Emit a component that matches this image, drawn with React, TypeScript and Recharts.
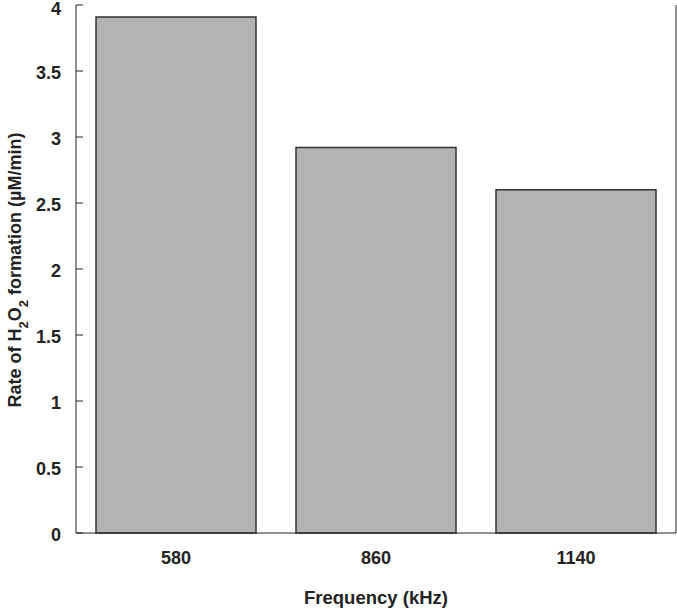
import { BarChart, Bar, XAxis, YAxis } from 'recharts';

const frequencies = ['580', '860', '1140'];
const rates = [3.91, 2.92, 2.6];
const yTicks = [0, 0.5, 1, 1.5, 2, 2.5, 3, 3.5, 4];

const data = frequencies.map((f, i) => ({ freq: f, rate: rates[i] }));

const FONT = '"Liberation Sans", Arial, sans-serif';
const INK = '#222';

// y axis title with subscripts, centred on the plot
const YTitle = () => (
  <text
    x={15}
    y={270}
    transform="rotate(-90, 15, 270)"
    textAnchor="middle"
    dominantBaseline="central"
    fontFamily={FONT}
    fontWeight="bold"
    fontSize={18}
    fill={INK}
  >
    Rate of H
    <tspan dy={8} fontSize={13}>2</tspan>
    <tspan dy={-8}>O</tspan>
    <tspan dy={8} fontSize={13}>2</tspan>
    <tspan dy={-8}> formation (µM/min)</tspan>
  </text>
);

const YTick = (props: any) => {
  const { x, y, payload } = props;
  // keep the top label inside the picture
  const shift = payload.value === 4 ? 4 : 2;
  return (
    <text
      x={x}
      y={y + shift}
      textAnchor="end"
      dominantBaseline="central"
      fontFamily={FONT}
      fontWeight="bold"
      fontSize={18}
      fill={INK}
    >
      {payload.value}
    </text>
  );
};

const App = () => {
  return (
    <div style={{ position: 'absolute', left: 0, top: 0, background: '#fff' }}>
      <BarChart
        width={677}
        height={609}
        data={data}
        margin={{ top: 5, right: 0, left: 10, bottom: 0 }}
        barCategoryGap="10%"
      >
        <XAxis
          dataKey="freq"
          height={76}
          tickLine={false}
          axisLine={{ stroke: INK, strokeWidth: 1 }}
          tick={{ fill: INK, fontSize: 18, fontWeight: 'bold', fontFamily: FONT }}
          tickMargin={12}
          label={{
            value: 'Frequency (kHz)',
            position: 'insideBottom',
            offset: 5,
            fill: INK,
            fontSize: 18.5,
            fontWeight: 'bold',
            fontFamily: FONT,
          }}
        />
        <YAxis
          yAxisId="left"
          width={66}
          domain={[0, 4]}
          ticks={yTicks}
          interval={0}
          tickSize={-7}
          tickMargin={22}
          axisLine={{ stroke: INK, strokeWidth: 1 }}
          tickLine={{ stroke: INK, strokeWidth: 1 }}
          tick={<YTick />}
          label={{ content: () => <YTitle /> }}
        />
        <YAxis
          yAxisId="right"
          orientation="right"
          width={1}
          domain={[0, 4]}
          ticks={yTicks}
          interval={0}
          tickSize={-7}
          tickMargin={0}
          tickFormatter={() => ''}
          axisLine={{ stroke: INK, strokeWidth: 1 }}
          tickLine={{ stroke: INK, strokeWidth: 1 }}
        />
        <Bar
          yAxisId="left"
          dataKey="rate"
          fill="#b3b3b3"
          stroke="#333"
          strokeWidth={1.5}
          isAnimationActive={false}
        />
      </BarChart>
    </div>
  );
};

export default App;
